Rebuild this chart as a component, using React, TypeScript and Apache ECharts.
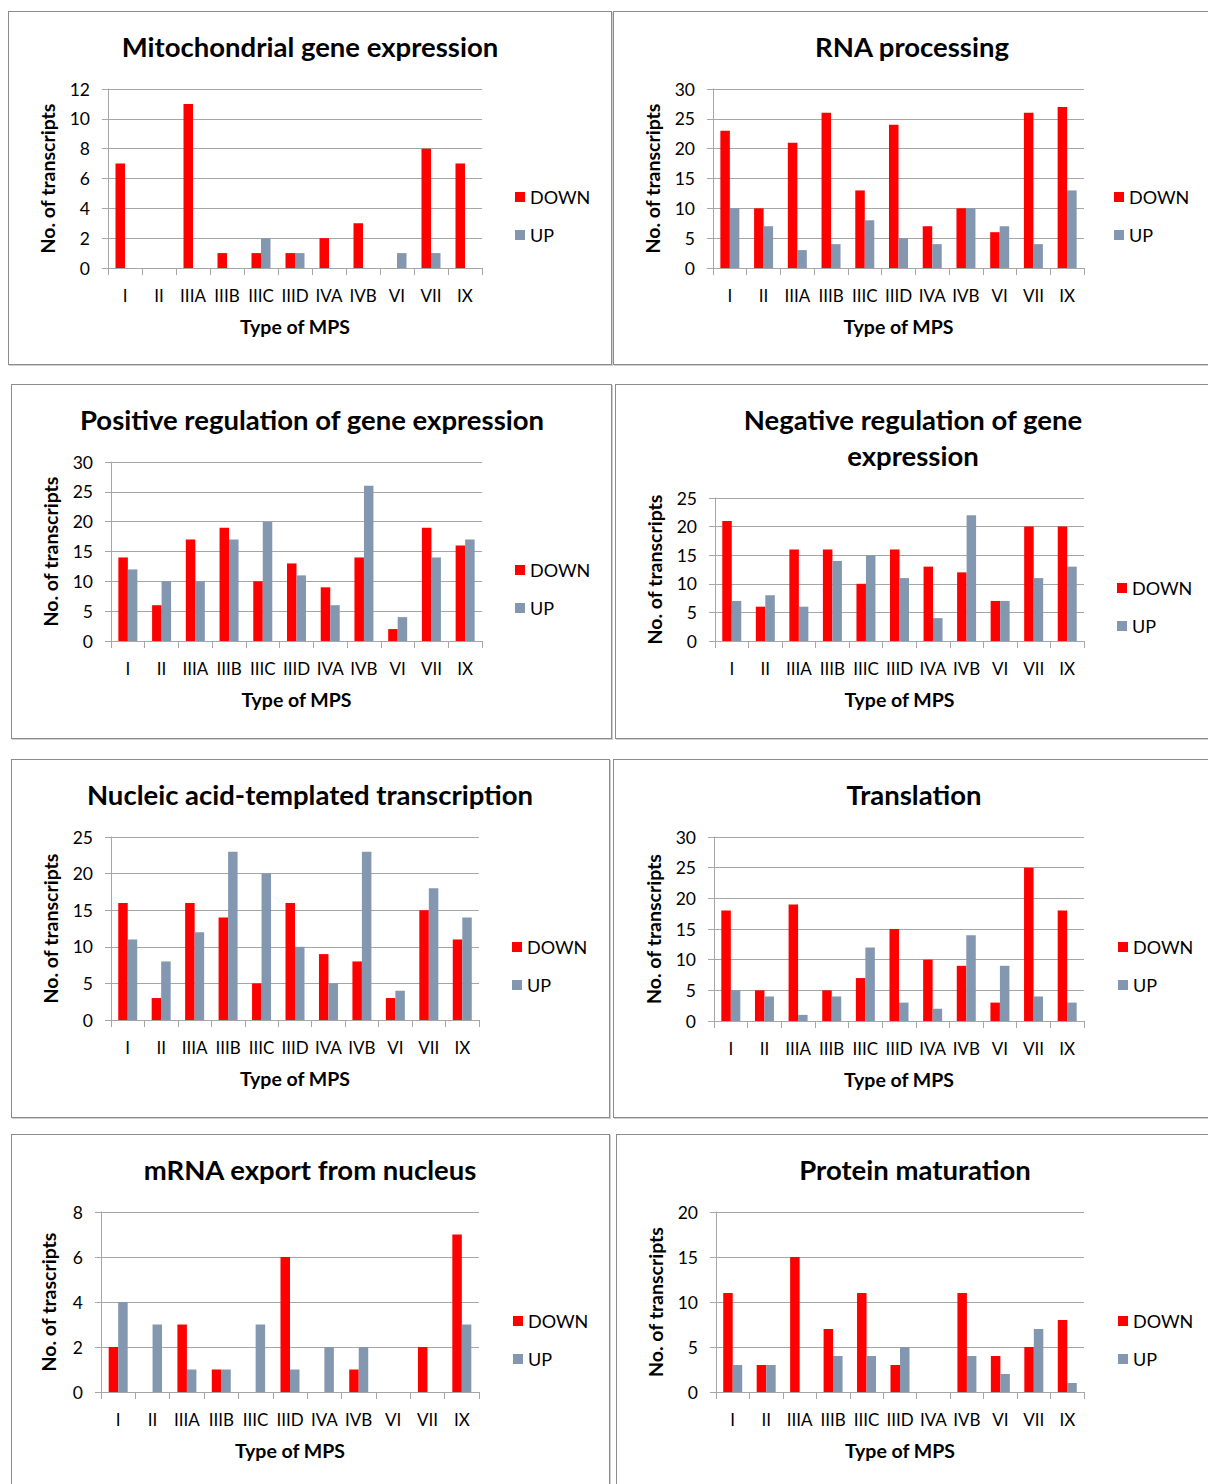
import React, { useEffect, useRef } from "react";
import * as echarts from "echarts";

const categories = ["I", "II", "IIIA", "IIIB", "IIIC", "IIID", "IVA", "IVB", "VI", "VII", "IX"];
const seriesNames = ["DOWN", "UP"];

const mitoDown = [7, 0, 11, 1, 1, 1, 2, 3, 0, 8, 7];
const mitoUp = [0, 0, 0, 0, 2, 1, 0, 0, 1, 1, 0];
const rnaDown = [23, 10, 21, 26, 13, 24, 7, 10, 6, 26, 27];
const rnaUp = [10, 7, 3, 4, 8, 5, 4, 10, 7, 4, 13];
const posDown = [14, 6, 17, 19, 10, 13, 9, 14, 2, 19, 16];
const posUp = [12, 10, 10, 17, 20, 11, 6, 26, 4, 14, 17];
const negDown = [21, 6, 16, 16, 10, 16, 13, 12, 7, 20, 20];
const negUp = [7, 8, 6, 14, 15, 11, 4, 22, 7, 11, 13];
const nucDown = [16, 3, 16, 14, 5, 16, 9, 8, 3, 15, 11];
const nucUp = [11, 8, 12, 23, 20, 10, 5, 23, 4, 18, 14];
const transDown = [18, 5, 19, 5, 7, 15, 10, 9, 3, 25, 18];
const transUp = [5, 4, 1, 4, 12, 3, 2, 14, 9, 4, 3];
const mrnaDown = [2, 0, 3, 1, 0, 6, 0, 1, 0, 2, 7];
const mrnaUp = [4, 3, 1, 1, 3, 1, 2, 2, 0, 0, 3];
const protDown = [11, 3, 15, 7, 11, 3, 0, 11, 4, 5, 8];
const protUp = [3, 3, 0, 4, 4, 5, 0, 4, 2, 7, 1];

const FONT = "Lato, 'Noto Sans', sans-serif";
const RED = "#ff0000";
const GRAY = "#8497b0";

type Panel = {
  title: string;
  down: number[];
  up: number[];
  yMax: number;
  yInterval: number;
  yName: string;
  box: [number, number, number, number];
  grid: [number, number, number, number];
  nameGap: number;
  legend: [number, number];
  titleX: number;
};

const panels: Panel[] = [
  { title: "Mitochondrial gene expression", down: mitoDown, up: mitoUp, yMax: 12, yInterval: 2, yName: "No. of transcripts",
    box: [8, 11, 604, 354], grid: [99, 77, 374, 179], nameGap: 51, legend: [506, 185], titleX: 296 },
  { title: "RNA processing", down: rnaDown, up: rnaUp, yMax: 30, yInterval: 5, yName: "No. of transcripts",
    box: [613, 11, 620, 354], grid: [99, 77, 371, 179], nameGap: 51, legend: [500, 185], titleX: 293 },
  { title: "Positive regulation of gene expression", down: posDown, up: posUp, yMax: 30, yInterval: 5, yName: "No. of transcripts",
    box: [11, 384, 601, 355], grid: [99, 77, 371, 179], nameGap: 51, legend: [503, 185], titleX: 295 },
  { title: "Negative regulation of gene\nexpression", down: negDown, up: negUp, yMax: 25, yInterval: 5, yName: "No. of transcripts",
    box: [615, 384, 620, 355], grid: [99, 113, 369, 143], nameGap: 51, legend: [501, 203], titleX: 292 },
  { title: "Nucleic acid-templated transcription", down: nucDown, up: nucUp, yMax: 25, yInterval: 5, yName: "No. of transcripts",
    box: [11, 759, 599, 359], grid: [99, 77, 368, 183], nameGap: 51, legend: [500, 187], titleX: 293 },
  { title: "Translation", down: transDown, up: transUp, yMax: 30, yInterval: 5, yName: "No. of transcripts",
    box: [613, 759, 620, 359], grid: [100, 77, 370, 184], nameGap: 51, legend: [504, 187], titleX: 295 },
  { title: "mRNA export from nucleus", down: mrnaDown, up: mrnaUp, yMax: 8, yInterval: 2, yName: "No. of trascripts",
    box: [11, 1134, 599, 400], grid: [89, 77, 378, 180], nameGap: 43, legend: [501, 186], titleX: 293 },
  { title: "Protein maturation", down: protDown, up: protUp, yMax: 20, yInterval: 5, yName: "No. of transcripts",
    box: [616, 1134, 620, 400], grid: [99, 77, 368, 180], nameGap: 51, legend: [501, 186], titleX: 293 },
];

function buildOption(p: Panel) {
  const [gl, gt, gw, gh] = p.grid;
  return {
    animation: false,
    textStyle: { fontFamily: FONT },
    title: {
      text: p.title,
      left: p.titleX,
      top: 11,
      textAlign: "center",
      textStyle: { fontFamily: FONT, fontSize: 27.5, fontWeight: "bold", color: "#000", lineHeight: 36 },
    },
    legend: {
      orient: "vertical",
      left: p.legend[0],
      top: p.legend[1] - 10,
      padding: 0,
      icon: "rect",
      itemWidth: 10,
      itemHeight: 10,
      itemGap: 18,
      data: seriesNames,
      textStyle: { fontFamily: FONT, fontSize: 18, color: "#000", lineHeight: 20 },
    },
    grid: { left: gl, top: gt, width: gw, height: gh, containLabel: false },
    xAxis: {
      type: "category",
      data: categories,
      boundaryGap: true,
      name: "Type of MPS",
      nameLocation: "middle",
      nameGap: 48,
      nameTextStyle: { fontFamily: FONT, fontSize: 19.5, fontWeight: "bold", color: "#000", verticalAlign: "top" },
      axisLine: { lineStyle: { color: "#a6a6a6", width: 1 } },
      axisTick: { show: true, alignWithLabel: false, length: 7, lineStyle: { color: "#a6a6a6" } },
      axisLabel: { interval: 0, margin: 19, fontFamily: FONT, fontSize: 17, color: "#000" },
    },
    yAxis: {
      type: "value",
      min: 0,
      max: p.yMax,
      interval: p.yInterval,
      name: p.yName,
      nameLocation: "middle",
      nameGap: p.nameGap,
      nameTextStyle: { fontFamily: FONT, fontSize: 19.5, fontWeight: "bold", color: "#000" },
      axisLine: { show: true, lineStyle: { color: "#a6a6a6", width: 1 } },
      axisTick: { show: true, length: 6, lineStyle: { color: "#a6a6a6" } },
      axisLabel: { margin: 18, fontFamily: FONT, fontSize: 17.5, color: "#000" },
      splitLine: { lineStyle: { color: "#a6a6a6", width: 1 } },
    },
    series: [
      { name: "DOWN", type: "bar", data: p.down, barWidth: 9.5, barGap: "0%", itemStyle: { color: RED } },
      { name: "UP", type: "bar", data: p.up, barWidth: 9.5, barGap: "0%", itemStyle: { color: GRAY } },
    ],
  };
}

function PanelChart({ p }: { p: Panel }) {
  const ref = useRef<HTMLDivElement>(null);
  useEffect(() => {
    if (!ref.current) return;
    const chart = echarts.init(ref.current, undefined, { renderer: "svg" });
    chart.setOption(buildOption(p));
    return () => chart.dispose();
  }, [p]);
  const [x, y, w, h] = p.box;
  return (
    <div
      style={{
        position: "absolute",
        left: x,
        top: y,
        width: w,
        height: h,
        border: "1px solid #8c8c8c",
        boxShadow: "1px 1px 0 #cfcfcf",
        boxSizing: "border-box",
        background: "#fff",
      }}
    >
      <div ref={ref} style={{ width: w - 2, height: h - 2 }} />
    </div>
  );
}

export default function App() {
  useEffect(() => {
    document.body.style.margin = "0";
    document.body.style.overflow = "hidden";
  }, []);
  return (
    <div style={{ position: "relative", width: 1208, height: 1484, overflow: "hidden", background: "#fff" }}>
      {panels.map((p, i) => (
        <PanelChart key={i} p={p} />
      ))}
    </div>
  );
}
